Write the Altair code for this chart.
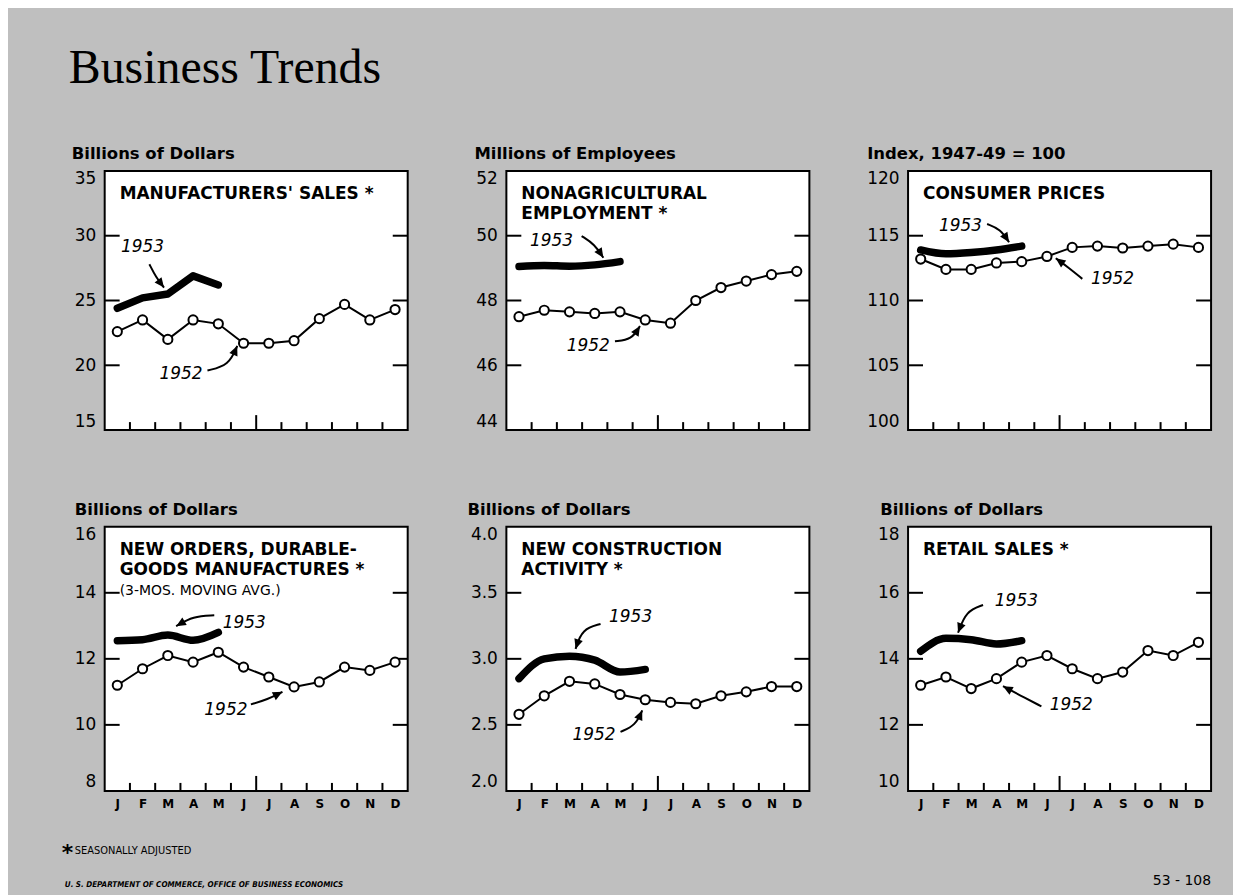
import math
import altair as alt
import pandas as pd

# ---------------- data ----------------
MONTHS = ["J", "F", "M", "A", "M", "J", "J", "A", "S", "O", "N", "D"]
MONTH_IDX = list(range(12))
BOUNDARIES = [0.5, 1.5, 2.5, 3.5, 4.5, 6.5, 7.5, 8.5, 9.5, 10.5]
MID_YEAR = [5.5]

TITLES = [
    ["MANUFACTURERS' SALES *"],
    ["NONAGRICULTURAL", "EMPLOYMENT *"],
    ["CONSUMER PRICES"],
    ["NEW ORDERS, DURABLE-", "GOODS MANUFACTURES *"],
    ["NEW CONSTRUCTION", "ACTIVITY *"],
    ["RETAIL SALES *"],
]
SUBTITLES = ["", "", "", "(3-MOS. MOVING AVG.)", "", ""]
UNITS = ["Billions of Dollars", "Millions of Employees", "Index, 1947-49 = 100",
         "Billions of Dollars", "Billions of Dollars", "Billions of Dollars"]
Y_DOMAINS = [[15, 35], [44, 52], [100, 120], [8, 16], [2.0, 4.0], [10, 18]]
Y_TICKS = [[15, 20, 25, 30, 35], [44, 46, 48, 50, 52], [100, 105, 110, 115, 120],
           [8, 10, 12, 14, 16], [2.0, 2.5, 3.0, 3.5, 4.0], [10, 12, 14, 16, 18]]
Y_FORMATS = ["d", "d", "d", "d", ".1f", "d"]

S1952 = [
    [22.6, 23.5, 22.0, 23.5, 23.2, 21.7, 21.7, 21.9, 23.6, 24.7, 23.5, 24.3],
    [47.5, 47.7, 47.65, 47.6, 47.65, 47.4, 47.3, 48.0, 48.4, 48.6, 48.8, 48.9],
    [113.2, 112.4, 112.4, 112.9, 113.0, 113.4, 114.1, 114.2, 114.05, 114.2, 114.35, 114.1],
    [11.2, 11.7, 12.1, 11.9, 12.2, 11.75, 11.45, 11.15, 11.3, 11.75, 11.65, 11.9],
    [2.58, 2.72, 2.83, 2.81, 2.73, 2.69, 2.67, 2.66, 2.72, 2.75, 2.79, 2.79],
    [13.2, 13.45, 13.1, 13.4, 13.9, 14.1, 13.7, 13.4, 13.6, 14.25, 14.1, 14.5],
]
S1953 = [
    [24.4, 25.2, 25.5, 26.9, 26.2],
    [49.05, 49.08, 49.06, 49.1, 49.2],
    [113.9, 113.6, 113.7, 113.9, 114.2],
    [12.55, 12.58, 12.72, 12.56, 12.8],
    [2.85, 3.0, 3.02, 2.99, 2.9, 2.92],
    [14.23, 14.62, 14.58, 14.45, 14.55],
]

# label positions (month, value) and arrow paths (month, value) for 1953 / 1952
LAB53 = [(1.0, 29.1), (1.29, 49.84), (1.58, 115.77), (5.03, 13.09), (4.42, 3.314), (3.79, 15.75)]
LAB52 = [(2.52, 19.36), (2.74, 46.59), (7.6, 111.67), (4.3, 10.46), (2.97, 2.422), (5.96, 12.59)]
ARR53 = [
    [(1.27, 27.8), (1.53, 26.8), (1.85, 26.0)],
    [(2.48, 49.99), (3.0, 49.73), (3.34, 49.32)],
    [(2.63, 115.9), (3.16, 115.5), (3.5, 114.49)],
    [(3.84, 13.32), (3.0, 13.29), (2.33, 12.99)],
    [(3.23, 3.264), (2.5, 3.226), (2.24, 3.075)],
    [(2.47, 15.63), (1.8, 15.45), (1.48, 14.79)],
]
ARR52 = [
    [(3.57, 19.6), (4.42, 20.0), (4.75, 21.5)],
    [(3.80, 46.74), (4.46, 46.79), (4.79, 47.21)],
    [(6.4, 111.67), (5.88, 112.5), (5.35, 113.26)],
    [(5.29, 10.62), (5.95, 10.77), (6.54, 11.0)],
    [(4.02, 2.447), (4.62, 2.497), (4.88, 2.61)],
    [(4.78, 12.56), (3.92, 12.9), (3.26, 13.17)],
]

FOOT_NOTE = "SEASONALLY ADJUSTED"
FOOT_SOURCE = "U. S. DEPARTMENT OF COMMERCE, OFFICE OF BUSINESS ECONOMICS"
FOOT_NUMBER = "53 - 108"
MAIN_TITLE = "Business Trends"

# ---------------- styling ----------------
W = 304
ROW_H = [260, 265]
UNIT_DX = [-33, -32, -41, -30, -39, -28]
BG = "#bfbfbf"
SANS = "DejaVu Sans"
NARROW = "DejaVu Sans Condensed, Liberation Sans Narrow, Roboto Condensed, Roboto"

month_expr = "[" + ",".join("'%s'" % m for m in MONTHS) + "][datum.value]"


def make_panel(i):
    bottom = i >= 3
    H = ROW_H[1] if bottom else ROW_H[0]
    lo, hi = Y_DOMAINS[i]
    xaxis = alt.Axis(values=MONTH_IDX, labelExpr=month_expr, ticks=False, domain=False,
                     grid=False, labelPadding=8, labelFontSize=12, labelFontWeight="bold",
                     labelFont=SANS, labelColor="black", title=None) if bottom else None
    X = alt.X("m:Q", scale=alt.Scale(domain=[-0.5, 11.5], nice=False, zero=False), axis=xaxis)
    Y = alt.Y("v:Q", scale=alt.Scale(domain=[lo, hi], nice=False, zero=False),
              axis=alt.Axis(values=Y_TICKS[i], format=Y_FORMATS[i], ticks=False, domain=False,
                            grid=False, labelPadding=9, labelFontSize=17, labelFont=SANS,
                            labelColor="black", labelFlush=True, title=None))

    inner = pd.DataFrame({"v": Y_TICKS[i][1:-1]})
    left_ticks = alt.Chart(inner).mark_rule(color="black", strokeWidth=2).encode(
        y=Y, x=alt.value(0), x2=alt.value(15))
    right_ticks = alt.Chart(inner).mark_rule(color="black", strokeWidth=2).encode(
        y=Y, x=alt.value(W - 15), x2=alt.value(W))
    bt = alt.Chart(pd.DataFrame({"m": BOUNDARIES})).mark_rule(color="black", strokeWidth=2).encode(
        x=X, y=alt.value(H), y2=alt.value(H - 8))
    bt_mid = alt.Chart(pd.DataFrame({"m": MID_YEAR})).mark_rule(color="black", strokeWidth=2).encode(
        x=X, y=alt.value(H), y2=alt.value(H - 15))

    df52 = pd.DataFrame({"m": MONTH_IDX, "v": S1952[i]})
    n53 = len(S1953[i])
    df53 = pd.DataFrame({"m": MONTH_IDX[:n53], "v": S1953[i]})
    line52 = alt.Chart(df52).mark_line(color="black", strokeWidth=2).encode(x=X, y=Y)
    pts52 = alt.Chart(df52).mark_point(shape="circle", filled=True, fill="white", stroke="black",
                                       strokeWidth=2, size=85, opacity=1).encode(x=X, y=Y)
    line53 = alt.Chart(df53).mark_line(color="black", strokeWidth=7.5, strokeCap="round",
                                       strokeJoin="round",
                                       interpolate="linear" if i == 0 else "monotone").encode(x=X, y=Y)

    labs = pd.DataFrame({"m": [LAB53[i][0], LAB52[i][0]], "v": [LAB53[i][1], LAB52[i][1]],
                         "t": ["1953", "1952"]})
    lab_txt = alt.Chart(labs).mark_text(fontSize=17, fontStyle="italic", font=SANS, color="black",
                                        align="center", baseline="middle").encode(x=X, y=Y, text="t:N")

    rows, heads = [], []
    pxm = W / 12.0
    pxv = H / float(hi - lo)
    for aid, path in enumerate([ARR53[i], ARR52[i]]):
        for o, (m, v) in enumerate(path):
            rows.append({"m": m, "v": v, "o": o, "id": aid})
        (m1, v1), (m2, v2) = path[-2], path[-1]
        dx = (m2 - m1) * pxm
        dy = -(v2 - v1) * pxv
        ang = math.degrees(math.atan2(dx, -dy)) % 360
        heads.append({"m": m2, "v": v2, "ang": ang})
    arrows = alt.Chart(pd.DataFrame(rows)).mark_line(color="black", strokeWidth=2,
                                                     interpolate="basis").encode(
        x=X, y=Y, detail="id:N", order="o:Q")
    arrow_heads = alt.Chart(pd.DataFrame(heads)).mark_point(
        shape="M0,0L-0.45,1L0.45,1Z", filled=True, color="black", size=380, opacity=1).encode(
        x=X, y=Y, angle=alt.Angle("ang:Q", scale=None))

    one = pd.DataFrame({"a": [0]})
    title = alt.Chart(one).mark_text(align="left", baseline="alphabetic", fontSize=17,
                                     fontWeight="bold", font=SANS, color="black", lineHeight=20).encode(
        x=alt.value(15), y=alt.value(28), text=alt.value(TITLES[i]))
    layers = [left_ticks, right_ticks, bt, bt_mid, line52, pts52, line53, arrows, arrow_heads,
              lab_txt, title]
    if SUBTITLES[i]:
        layers.append(alt.Chart(one).mark_text(align="left", baseline="alphabetic", fontSize=14,
                                               font=SANS, color="black").encode(
            x=alt.value(15), y=alt.value(28 + 20 * len(TITLES[i])), text=alt.value(SUBTITLES[i])))
    layers.append(alt.Chart(one).mark_text(align="left", baseline="alphabetic", fontSize=16.5,
                                           fontWeight="bold", font=SANS, color="black").encode(
        x=alt.value(UNIT_DX[i]), y=alt.value(-12), text=alt.value(UNITS[i])))

    if i == 0:
        layers.append(alt.Chart(one).mark_text(align="left", baseline="alphabetic", fontSize=48,
                                               font="Liberation Serif", color="black").encode(
            x=alt.value(-36), y=alt.value(-88), text=alt.value(MAIN_TITLE)))
    if i == 3:
        layers.append(alt.Chart(one).mark_text(align="left", baseline="alphabetic", fontSize=22,
                                               font=SANS, fontWeight="bold", color="black").encode(
            x=alt.value(-43), y=alt.value(334), text=alt.value("*")))
        layers.append(alt.Chart(one).mark_text(align="left", baseline="alphabetic", fontSize=11,
                                               font=NARROW, color="black").encode(
            x=alt.value(-30), y=alt.value(328), text=alt.value(FOOT_NOTE)))
        layers.append(alt.Chart(one).mark_text(align="left", baseline="alphabetic", fontSize=8,
                                               font=NARROW, fontStyle="italic", fontWeight="bold",
                                               color="black").encode(
            x=alt.value(-40), y=alt.value(361), text=alt.value(FOOT_SOURCE)))
    if i == 5:
        layers.append(alt.Chart(one).mark_text(align="right", baseline="alphabetic", fontSize=14,
                                               font=SANS, color="black").encode(
            x=alt.value(W), y=alt.value(359), text=alt.value(FOOT_NUMBER)))

    return alt.layer(*layers).properties(width=W, height=H)


chart = alt.concat(*[make_panel(i) for i in range(6)], columns=3,
                   spacing=alt.RowColnumber(row=97, column=99), bounds="flush").properties(
    padding={"left": 53, "top": 35, "right": 20, "bottom": 10},
    background=BG,
).configure_view(stroke="black", strokeWidth=2, fill="white")

chart.save("out.html", embed_options={"renderer": "svg", "actions": False})
